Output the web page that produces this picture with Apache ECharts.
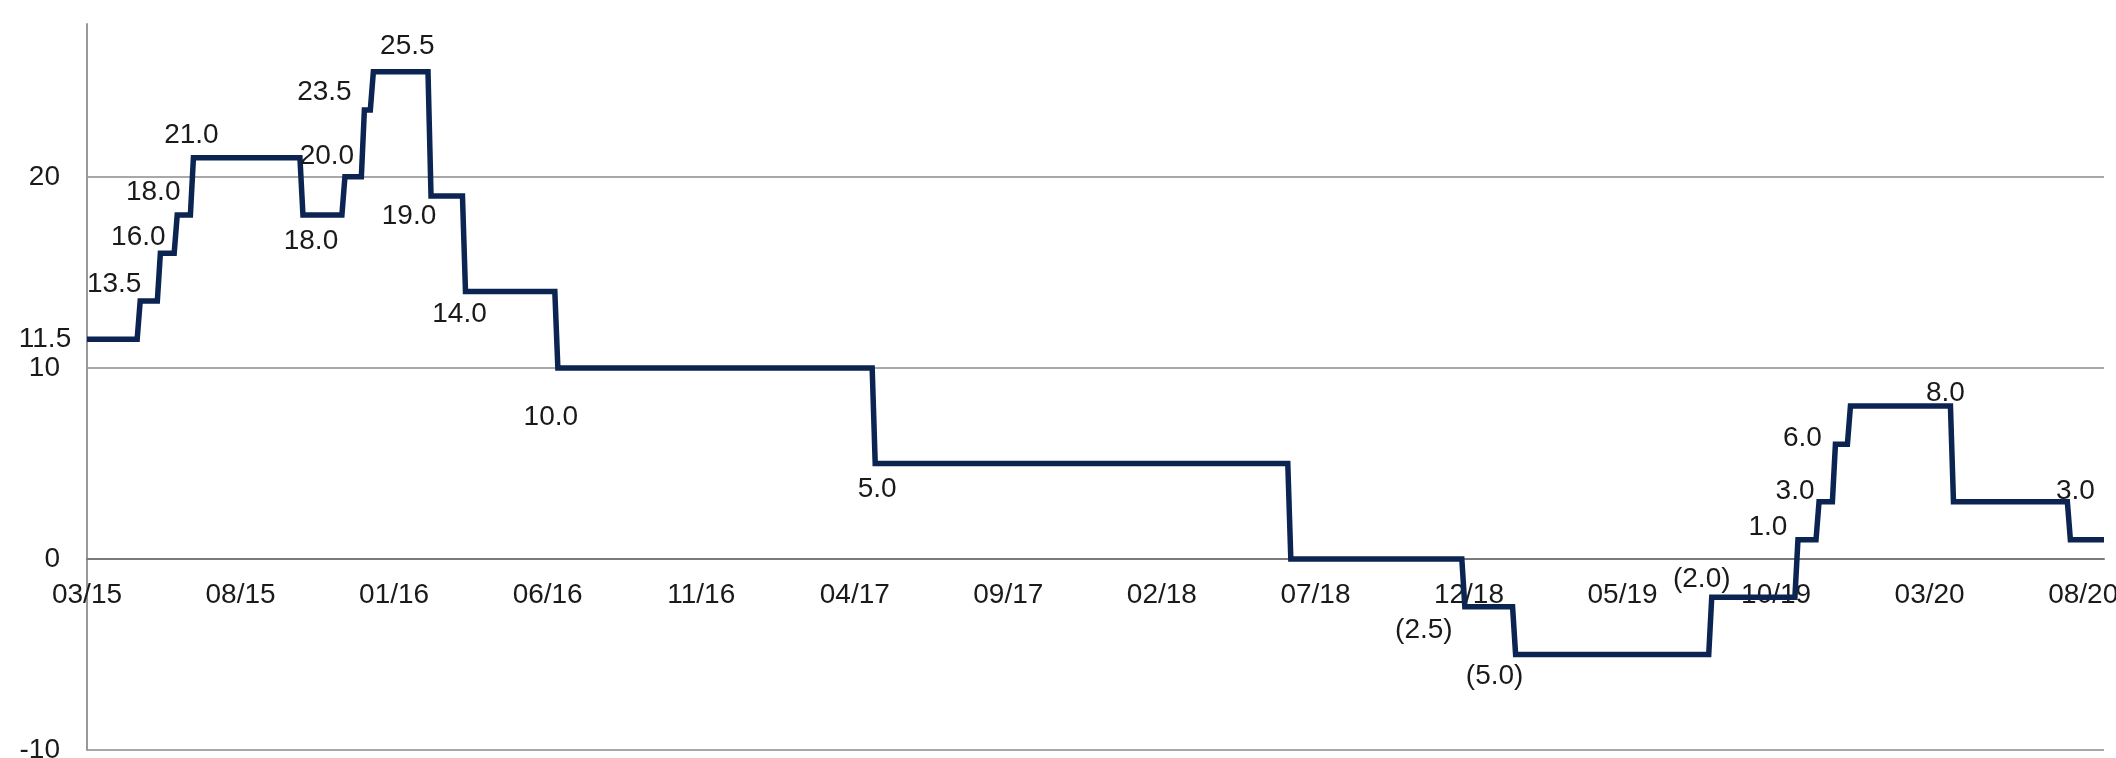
<!DOCTYPE html>
<html>
<head>
<meta charset="utf-8">
<script src="https://cdn.jsdelivr.net/npm/echarts@6/dist/echarts.min.js"></script>
<style>
  html, body { margin: 0; padding: 0; background: #fff; }
  #chart { width: 2116px; height: 758px; }
</style>
</head>
<body>
<div id="chart"></div>
<script>
// dates where the rate changes, and the new rate from that date
const changeDates = ['2015-03-01', '2015-04-20', '2015-05-10', '2015-05-27', '2015-06-12',
  '2015-09-29', '2015-11-10', '2015-11-29', '2015-12-08', '2016-02-04', '2016-03-08',
  '2016-06-08', '2017-04-18', '2018-06-04', '2018-11-24', '2019-01-14', '2019-07-26',
  '2019-10-20', '2019-11-10', '2019-11-26', '2019-12-11', '2020-03-22', '2020-07-16']
const rates = [11.5, 13.5, 16.0, 18.0, 21.0, 18.0, 20.0, 23.5, 25.5, 19.0, 14.0,
  10.0, 5.0, 0.0, -2.5, -5.0, -2.0, 1.0, 3.0, 6.0, 8.0, 3.0, 1.0]
const endDate = '2020-08-22'
const yTicks = [-10, 0, 10, 20]

// label placement: [dx, dy] from the start of each level, null = no label
const labelOffsets = [
  [-42, 0], [-26, -17], [-22, -16], [-24, -23], [-2, -22], [8, 26], [-18, -21],
  [-40, -18], [34, -25], [-22, 20], [-6, 23], [-7, 49], [2, 26], null,
  [-41, 24], [-21, 22], [-10, -18], [-30, -13], [-24, -10], [-33, -6],
  [95, -13], [122, -10], null
]

const STEP_DAYS = 3
const FONT = "'Helvetica Neue', 'Liberation Sans', Arial, sans-serif"
const Y_MIN = -10
const Y_MAX = 28
const GRID = { left: 87, right: 12, top: 24, bottom: 8 }
const H = 758

// months elapsed since March 2015
function monthIndex(s) {
  const [y, m, d] = s.split('-').map(Number)
  const dim = new Date(y, m, 0).getDate()
  return (y - 2015) * 12 + (m - 3) + (d - 1) / dim
}

function monthLabel(v) {
  const total = Math.round(v) + 2 // 0 -> March (index 2)
  const yy = 15 + Math.floor(total / 12)
  const mm = (total % 12) + 1
  return String(mm).padStart(2, '0') + '/' + String(yy).padStart(2, '0')
}

function fmt(v) {
  return v < 0 ? '(' + Math.abs(v).toFixed(1) + ')' : v.toFixed(1)
}

const lag = STEP_DAYS / 30.4
const linePoints = []
const labelPoints = []
changeDates.forEach((d, i) => {
  const m = monthIndex(d)
  if (i === 0) {
    linePoints.push([m, rates[i]])
  } else {
    linePoints.push([m, rates[i - 1]])
    linePoints.push([m + lag, rates[i]])
  }
  const off = labelOffsets[i]
  if (off) {
    labelPoints.push({
      value: [i === 0 ? m : m + lag, rates[i]],
      label: { offset: off }
    })
  }
})
linePoints.push([monthIndex(endDate), rates[rates.length - 1]])

// x axis sits on the zero line
const plotH = H - GRID.top - GRID.bottom
const zeroOffset = -plotH * (0 - Y_MIN) / (Y_MAX - Y_MIN)

const chart = echarts.init(document.getElementById('chart'))
chart.setOption({
  animation: false,
  backgroundColor: '#fff',
  grid: Object.assign({ containLabel: false, outerBoundsMode: 'none' }, GRID),
  xAxis: {
    type: 'value',
    min: 0,
    max: monthIndex(endDate),
    interval: 5,
    offset: zeroOffset,
    axisLine: { onZero: false, lineStyle: { color: '#7a7a7a', width: 2 } },
    axisTick: { show: false },
    splitLine: { show: false },
    axisLabel: {
      showMaxLabel: false,
      margin: 22,
      fontSize: 28,
      fontFamily: FONT,
      color: '#1a1a1a',
      formatter: monthLabel
    }
  },
  yAxis: {
    type: 'value',
    min: Y_MIN,
    max: Y_MAX,
    interval: 10,
    axisLine: { show: true, lineStyle: { color: '#999', width: 2 } },
    axisTick: { show: false },
    splitLine: { show: true, showMaxLine: false, lineStyle: { color: '#a8a8a8', width: 2 } },
    axisLabel: {
      margin: 27,
      fontSize: 28,
      fontFamily: FONT,
      color: '#1a1a1a',
      formatter: v => (yTicks.includes(v) ? String(v) : '')
    }
  },
  series: [
    {
      type: 'line',
      data: linePoints,
      showSymbol: false,
      symbol: 'none',
      lineStyle: { color: '#0b2452', width: 5.5, join: 'miter' },
      z: 3
    },
    {
      type: 'scatter',
      data: labelPoints,
      symbolSize: 1,
      itemStyle: { color: 'rgba(0,0,0,0)', opacity: 1 },
      label: {
        show: true,
        position: 'inside',
        fontSize: 28,
        fontFamily: FONT,
        color: '#1a1a1a',
        opacity: 1,
        formatter: p => fmt(p.value[1])
      },
      z: 4
    }
  ]
})
</script>
</body>
</html>
